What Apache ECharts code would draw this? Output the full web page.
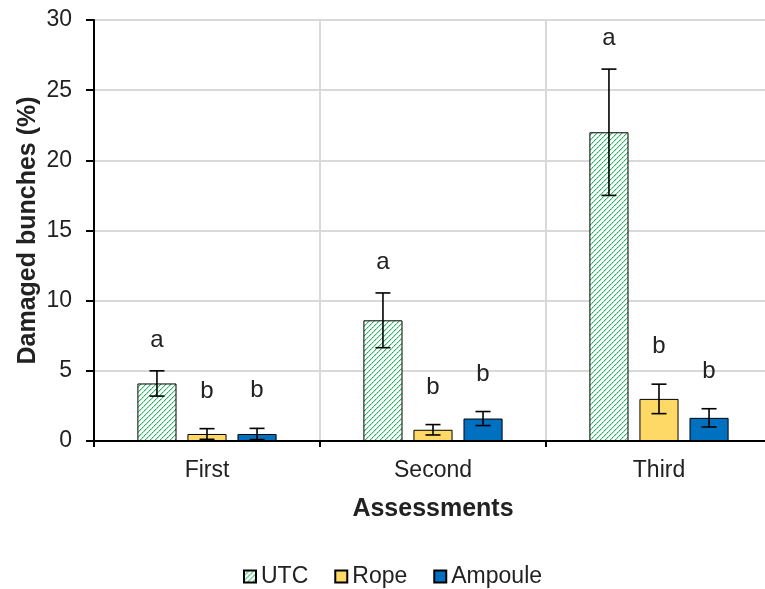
<!DOCTYPE html>
<html>
<head>
<meta charset="utf-8">
<script src="https://cdn.jsdelivr.net/npm/echarts@6/dist/echarts.min.js"></script>
<style>html,body{margin:0;padding:0;background:#fff;}#c{width:765px;height:589px;}</style>
</head>
<body>
<div id="c"></div>
<script>
var categories = ['First', 'Second', 'Third'];
var seriesNames = ['UTC', 'Rope', 'Ampoule'];
var utc = [4.1, 8.6, 22.0];
var utcErr = [0.9, 1.95, 4.5];
var rope = [0.5, 0.8, 3.0];
var ropeErr = [0.38, 0.37, 1.05];
var ampoule = [0.5, 1.6, 1.65];
var ampouleErr = [0.4, 0.5, 0.65];
var utcLetters = ['a', 'a', 'a'];
var ropeLetters = ['b', 'b', 'b'];
var ampouleLetters = ['b', 'b', 'b'];
var yTicks = [0, 5, 10, 15, 20, 25, 30];

var FONT = 'Liberation Sans, Arial, sans-serif';
var TXT = '#222';

// hatch pattern
var pc = document.createElement('canvas');
pc.width = 5; pc.height = 5;
var g = pc.getContext('2d');
g.fillStyle = '#ffffff'; g.fillRect(0, 0, 5, 5);
for (var i = 0; i < 5; i++) {
  g.fillStyle = (i % 2 === 0) ? '#1fb25a' : '#5cc98a';
  g.fillRect(i, 4 - i, 1, 1);
  g.fillStyle = '#b5e8c8';
  g.fillRect((i + 1) % 5, 4 - i, 1, 1);
}
var hatch = { image: pc, repeat: 'repeat' };

var BW = 0.173, GAP = 0.28;
var LETTER_LIFT = { a: 30.5, b: 37.5 };

function mkErrData(vals, errs) {
  return vals.map(function (v, i) { return [i, v + errs[i], v - errs[i]]; });
}
function mkLetterData(vals, errs, letters) {
  return vals.map(function (v, i) { return [i, v + errs[i], letters[i]]; });
}
function offsetFor(idx, api) {
  var band = api.size([1, 0])[0];
  var bw = band * BW;
  return (idx - 1) * bw * (1 + GAP);
}
function errRender(idx) {
  return function (params, api) {
    var xi = api.value(0);
    var p1 = api.coord([xi, api.value(1)]);
    var p2 = api.coord([xi, api.value(2)]);
    var x = p1[0] + offsetFor(idx, api);
    var c = 7.5;
    var st = { stroke: '#000', lineWidth: 1.6 };
    return {
      type: 'group',
      children: [
        { type: 'line', shape: { x1: x, y1: p1[1], x2: x, y2: p2[1] }, style: st },
        { type: 'line', shape: { x1: x - c, y1: p1[1], x2: x + c, y2: p1[1] }, style: st },
        { type: 'line', shape: { x1: x - c, y1: p2[1], x2: x + c, y2: p2[1] }, style: st }
      ]
    };
  };
}
function letterRender(idx) {
  return function (params, api) {
    var xi = api.value(0);
    var p = api.coord([xi, api.value(1)]);
    var x = p[0] + offsetFor(idx, api);
    var t = api.value(2);
    return {
      type: 'text',
      x: x, y: p[1] - (LETTER_LIFT[t] || 34),
      style: {
        text: t, fill: TXT, font: '24px ' + FONT,
        align: 'center', verticalAlign: 'middle'
      }
    };
  };
}

var barBase = { type: 'bar', barWidth: (BW * 100) + '%', barGap: (GAP * 100) + '%' };
var series = [
  Object.assign({}, barBase, { name: 'UTC', data: utc, itemStyle: { color: hatch, borderColor: '#000', borderWidth: 1 } }),
  Object.assign({}, barBase, { name: 'Rope', data: rope, itemStyle: { color: '#FFD966', borderColor: '#000', borderWidth: 1 } }),
  Object.assign({}, barBase, { name: 'Ampoule', data: ampoule, itemStyle: { color: '#0070C0', borderColor: '#000', borderWidth: 1 } })
];
[[utc, utcErr, utcLetters], [rope, ropeErr, ropeLetters], [ampoule, ampouleErr, ampouleLetters]].forEach(function (s, k) {
  series.push({ type: 'custom', name: 'err' + k, renderItem: errRender(k), data: mkErrData(s[0], s[1]), z: 5, silent: true, encode: { x: 0, y: [1, 2] } });
  series.push({ type: 'custom', name: 'lab' + k, renderItem: letterRender(k), data: mkLetterData(s[0], s[1], s[2]), z: 6, silent: true, encode: { x: 0, y: 1 } });
});

var chart = echarts.init(document.getElementById('c'), null, { renderer: 'canvas' });
chart.setOption({
  animation: false,
  backgroundColor: '#fff',
  textStyle: { fontFamily: FONT },
  grid: { left: 94, right: -7, top: 20, bottom: 148, containLabel: false, outerBoundsMode: 'none' },
  legend: {
    data: seriesNames, left: 243, top: 565, padding: 0,
    itemWidth: 12, itemHeight: 12, itemGap: 26,
    textStyle: { fontSize: 23, color: TXT, fontFamily: FONT },
    icon: 'rect'
  },
  xAxis: {
    type: 'category', data: categories,
    name: 'Assessments', nameLocation: 'middle', nameGap: 56, nameMoveOverlap: false,
    nameTextStyle: { fontSize: 25, fontWeight: 'bold', color: TXT, fontFamily: FONT },
    axisLine: { lineStyle: { color: '#000', width: 2 } },
    axisTick: { show: true, inside: false, length: 6, lineStyle: { color: '#000', width: 2 } },
    axisLabel: { fontSize: 23, color: TXT, margin: 18, fontFamily: FONT },
    splitLine: { show: true, lineStyle: { color: '#d9d9d9', width: 2 } }
  },
  yAxis: {
    type: 'value', min: yTicks[0], max: yTicks[yTicks.length - 1], interval: 5,
    name: 'Damaged bunches (%)', nameLocation: 'middle', nameGap: 53, nameMoveOverlap: false,
    nameTextStyle: { fontSize: 25, fontWeight: 'bold', color: TXT, fontFamily: FONT },
    axisLine: { show: true, lineStyle: { color: '#000', width: 2 } },
    axisTick: { show: true, inside: false, length: 8, lineStyle: { color: '#000', width: 2 } },
    axisLabel: { fontSize: 23, color: TXT, margin: 22, fontFamily: FONT },
    splitLine: { show: true, lineStyle: { color: '#d9d9d9', width: 2 } }
  },
  series: series
});
</script>
</body>
</html>
